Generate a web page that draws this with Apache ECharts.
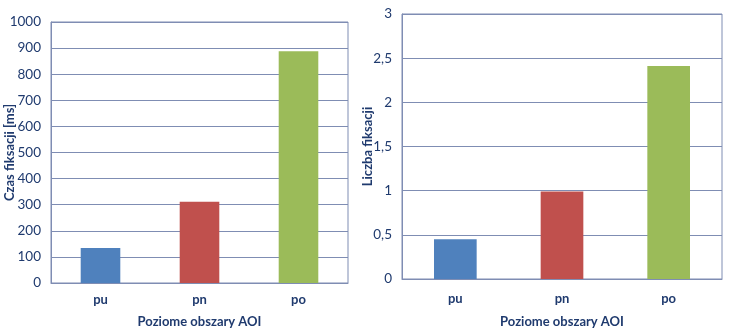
<!DOCTYPE html>
<html>
<head>
<meta charset="utf-8">
<script src="https://cdn.jsdelivr.net/npm/echarts@6/dist/echarts.min.js"></script>
<style>
  html, body { margin: 0; padding: 0; background: #fff; }
  #chart { width: 731px; height: 333px; }
</style>
</head>
<body>
<div id="chart"></div>
<script>
// Horizontal AOI regions
const categories = ['pu', 'pn', 'po'];
// Fixation duration [ms]
const fixationTime = [134, 311, 888];
// Fixation count
const fixationCount = [0.45, 0.99, 2.41];
const barColors = ['#4F81BD', '#C0504D', '#9BBB59'];

const textColor = '#1F3A6E';
const gridColor = '#7F8DB3';
const fontFamily = 'Lato, "Open Sans", sans-serif';

function colored(values) {
  return values.map((v, i) => ({ value: v, itemStyle: { color: barColors[i] } }));
}

function xAxis(gridIndex, labelMargin, nameGap) {
  return {
    type: 'category',
    gridIndex: gridIndex,
    data: categories,
    name: 'Poziome obszary AOI',
    nameLocation: 'middle',
    nameGap: nameGap,
    nameMoveOverlap: false,
    nameTextStyle: { color: textColor, fontSize: 13, fontWeight: 'bold', fontFamily: fontFamily },
    axisLine: { lineStyle: { color: gridColor, width: 1 } },
    axisTick: { show: false },
    axisLabel: { color: textColor, fontSize: 13, fontWeight: 'bold', fontFamily: fontFamily, margin: labelMargin }
  };
}

function yAxis(gridIndex, name, max, interval, nameGap, formatter) {
  return {
    type: 'value',
    gridIndex: gridIndex,
    min: 0,
    max: max,
    interval: interval,
    name: name,
    nameLocation: 'middle',
    nameGap: nameGap,
    nameMoveOverlap: false,
    nameTextStyle: { color: textColor, fontSize: 13, fontWeight: 'bold', fontFamily: fontFamily },
    axisLine: { show: true, lineStyle: { color: gridColor, width: 1 } },
    axisTick: { show: false },
    axisLabel: { color: textColor, fontSize: 13.5, fontFamily: fontFamily, margin: 10, formatter: formatter },
    splitLine: { lineStyle: { color: gridColor, width: 1 } }
  };
}

const chart = echarts.init(document.getElementById('chart'), null, { renderer: 'canvas' });
chart.setOption({
  animation: false,
  backgroundColor: '#ffffff',
  grid: [
    { left: 51, right: 383, top: 22, bottom: 50, outerBoundsMode: 'none', containLabel: false,
      show: true, borderColor: gridColor, borderWidth: 1, backgroundColor: 'transparent' },
    { left: 402, right: 9, top: 14, bottom: 54, outerBoundsMode: 'none', containLabel: false,
      show: true, borderColor: gridColor, borderWidth: 1, backgroundColor: 'transparent' }
  ],
  xAxis: [xAxis(0, 10, 32), xAxis(1, 13, 36)],
  yAxis: [
    yAxis(0, 'Czas fiksacji [ms]', 1000, 100, 35, v => String(v)),
    yAxis(1, 'Liczba fiksacji', 3, 0.5, 28, v => String(v).replace('.', ','))
  ],
  series: [
    { type: 'bar', xAxisIndex: 0, yAxisIndex: 0, barWidth: '40%', data: colored(fixationTime) },
    { type: 'bar', xAxisIndex: 1, yAxisIndex: 1, barWidth: '40%', data: colored(fixationCount) }
  ]
});
</script>
</body>
</html>
